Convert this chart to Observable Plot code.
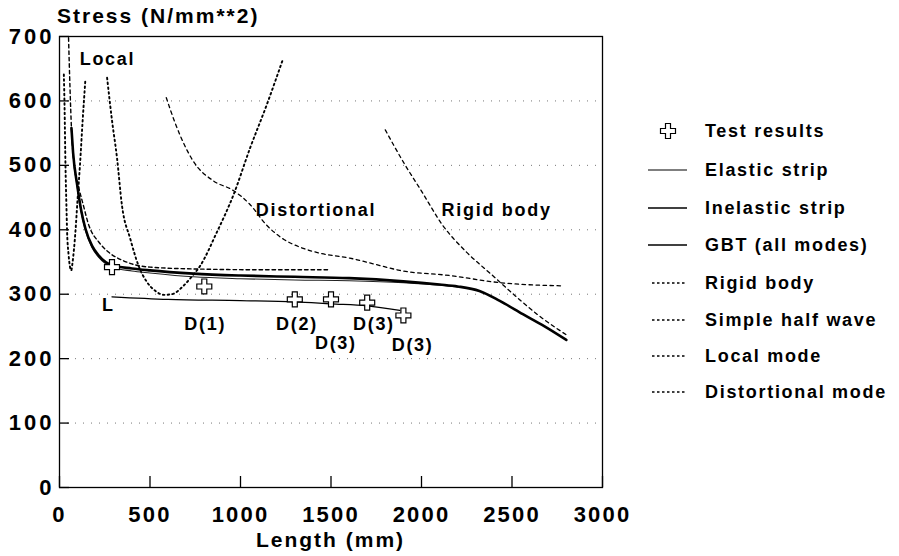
<!DOCTYPE html>
<html>
<head>
<meta charset="utf-8">
<script src="https://cdn.jsdelivr.net/npm/d3@7"></script>
<script src="https://cdn.jsdelivr.net/npm/@observablehq/plot@0.6"></script>
<style>
  html, body { margin: 0; padding: 0; background: #fff; }
  #wrap { position: relative; width: 899px; height: 556px; overflow: hidden;
          font-family: "Liberation Sans", Arial, Helvetica, sans-serif; font-weight: bold; color: #000; }
  #chart { position: absolute; left: 0; top: 0; }
  #chart svg text { letter-spacing: 1.7px; }
  #chart svg g[aria-label="x-axis tick label"],
  #chart svg g[aria-label="y-axis tick label"] { font-size: 22px; font-weight: bold; }
  #chart svg g[aria-label="x-axis tick label"] text { letter-spacing: 2.2px; }
  #chart svg g[aria-label="y-axis tick label"] text { letter-spacing: 3px; }
  .title { position: absolute; font-size: 21px; line-height: 21px; letter-spacing: 2px; white-space: nowrap; }
  .lg { position: absolute; left: 645px; height: 22px; line-height: 22px; font-size: 18px; letter-spacing: 1.7px; white-space: nowrap; }
  .lg svg { position: absolute; left: 0; top: 0; }
  .lg span { position: absolute; left: 60px; top: 0; }
</style>
</head>
<body>
<div id="wrap">
  <div id="chart"></div>
  <div class="title" style="left:57px; top:5px;">Stress (N/mm**2)</div>
  <div class="title" style="left:59px; width:543px; text-align:center; top:529px;">Length (mm)</div>
</div>
<script>
// ---------- data ----------
const xTicks = [0, 500, 1000, 1500, 2000, 2500, 3000];
const yTicks = [0, 100, 200, 300, 400, 500, 600, 700];
const gridLevels = [100, 200, 300, 400, 500, 600];

// [length mm, stress N/mm2]
const gbtAllModes = [[66,558],[75,520],[98,469],[120,430],[143,402],[180,375],[217,360],[290,345],[400,340],[500,337],[740,332],[1000,329],[1300,327],[1600,325],[1900,320],[2100,315],[2200,312],[2320,305],[2430,290],[2560,269],[2680,250],[2800,229]];
const elasticStrip = [[66,556],[75,518],[98,466],[120,427],[143,399],[180,372],[217,357],[290,342],[400,336],[500,333],[740,327],[1000,324],[1300,322],[1600,321],[1900,318],[2100,314],[2200,311]];
const inelasticStrip = [[290,296],[600,292],[1000,290],[1300,288],[1500,285],[1700,282],[1880,275]];
const rigidBody = [[1800,555],[1900,505],[2000,460],[2117,407],[2250,365],[2393,329],[2520,297],[2652,266],[2800,237]];
const halfWaveLocal = [[24,641],[28,590],[33,500],[38,440],[42,397],[50,362],[57,344],[65,337],[72,349],[80,370],[88,397],[100,448],[113,500],[128,570],[143,633]];
const halfWaveDistortional = [[263,636],[290,570],[318,511],[345,438],[391,386],[437,344],[483,319],[530,305],[575,299],[620,300],[685,313],[730,327],[777,344],[869,396],[961,454],[1053,527],[1145,594],[1231,662]];
const localMode = [[50,698],[58,620],[66,558],[80,502],[106,466],[130,440],[162,407],[217,381],[272,365],[345,353],[400,347],[500,342],[777,339],[1100,338],[1490,338]];
const distortionalMode = [[590,605],[640,565],[740,506],[850,476],[960,461],[1050,440],[1145,407],[1240,385],[1329,373],[1450,363],[1604,356],[1750,346],[1880,337],[2155,329],[2431,318],[2780,313]];

const testLength = [290, 800, 1300, 1500, 1700, 1900];
const testStress = [342, 312, 292, 292, 287, 267];

const annoText = ["Local", "Distortional", "Rigid body", "L", "D(1)", "D(2)", "D(3)", "D(3)", "D(3)"];
const annoX    = [265, 1417, 2415, 270, 805, 1312, 1737, 1527, 1951];
const annoY    = [664, 430, 430, 283, 253, 253, 253, 224, 221];

const legendLabels = ["Test results", "Elastic strip", "Inelastic strip", "GBT (all modes)", "Rigid body", "Simple half wave", "Local mode", "Distortional mode"];

// ---------- styles ----------
const S = {
  gbt:   {stroke: "#000", strokeWidth: 2.6},
  el:    {stroke: "#222", strokeWidth: 1.1},
  inel:  {stroke: "#000", strokeWidth: 1.3},
  rigid: {stroke: "#000", strokeWidth: 1.3, strokeDasharray: "3.5,3.5"},
  half:  {stroke: "#000", strokeWidth: 1.9, strokeDasharray: "1.6,3.2"},
  local: {stroke: "#000", strokeWidth: 1.4, strokeDasharray: "3.5,3"},
  dist:  {stroke: "#000", strokeWidth: 1.3, strokeDasharray: "3.5,3.5"}
};
const XY = {x: d => d[0], y: d => d[1], curve: "monotone-x"};
const tests = testLength.map((x, i) => ({x, y: testStress[i]}));
const annos = annoText.map((t, i) => ({t, x: annoX[i], y: annoY[i]}));

const W = 640, H = 556, ML = 59, MR = 38, MT = 36, MB = 69;
const chart = Plot.plot({
  width: W, height: H,
  marginLeft: ML, marginRight: MR, marginTop: MT, marginBottom: MB,
  style: {fontFamily: "Liberation Sans, Arial, Helvetica, sans-serif", fontWeight: "bold", color: "#000", background: "#fff"},
  x: {domain: [0, 3000]},
  y: {domain: [0, 700]},
  marks: [
    Plot.ruleY(gridLevels, {y: d => d, stroke: "#777", strokeWidth: 1, strokeDasharray: "1,7"}),
    Plot.line(distortionalMode, {...XY, ...S.dist}),
    Plot.line(rigidBody, {...XY, ...S.rigid}),
    Plot.line(halfWaveLocal, {...XY, ...S.half}),
    Plot.line(halfWaveDistortional, {...XY, ...S.half}),
    Plot.line(localMode, {...XY, ...S.local}),
    Plot.line(elasticStrip, {...XY, ...S.el}),
    Plot.line(gbtAllModes, {...XY, ...S.gbt}),
    Plot.line(inelasticStrip, {...XY, ...S.inel}),
    Plot.dot(tests, {x: "x", y: "y", symbol: "cross", r: 6.3, fill: "#fff", stroke: "#000", strokeWidth: 1.2}),
    Plot.text(annos, {x: "x", y: "y", text: "t", fontSize: 18, fontWeight: "bold", fill: "#000"}),
    Plot.frame({stroke: "#000", strokeWidth: 1.3}),
    Plot.tickX(xTicks, {x: d => d, insetTop: H - MT - MB - 11, stroke: "#000", strokeWidth: 1.3}),
    Plot.tickY(yTicks, {y: d => d, insetRight: W - ML - MR - 10, stroke: "#000", strokeWidth: 1.3}),
    Plot.axisX({ticks: xTicks, tickSize: 0, tickPadding: 19, label: null, fontSize: 22, fontWeight: "bold", tickFormat: d => String(d)}),
    Plot.axisY({ticks: yTicks, tickSize: 0, tickPadding: 5, label: null, fontSize: 22, fontWeight: "bold", tickFormat: d => String(d)})
  ]
});
document.getElementById("chart").appendChild(chart);

// ---------- legend ----------
const wrap = d3.select("#wrap");
const legendStyles = [null, S.el, S.inel, S.gbt, S.rigid, S.half, S.local, S.dist];
const legendTop = [131, 170, 208, 245, 283, 320, 356, 392];
legendLabels.forEach((label, i) => {
  const row = wrap.append("div").attr("class", "lg").style("top", (legendTop[i] - 11) + "px").style("width", "254px");
  const svg = row.append("svg").attr("width", 50).attr("height", 22);
  if (i === 0) {
    svg.append("path")
      .attr("d", d3.symbol(d3.symbolCross, 125)())
      .attr("transform", "translate(23,11)")
      .attr("fill", "#fff").attr("stroke", "#000").attr("stroke-width", 1.2);
  } else {
    const st = legendStyles[i];
    const dashed = !!st.strokeDasharray;
    svg.append("line")
      .attr("x1", dashed ? 7 : 3).attr("x2", 42).attr("y1", 11).attr("y2", 11)
      .attr("stroke", "#000")
      .attr("stroke-width", Math.min(st.strokeWidth, 1.6))
      .attr("stroke-dasharray", dashed ? "2.5,2.5" : null);
  }
  row.append("span").text(label);
});
</script>
</body>
</html>
